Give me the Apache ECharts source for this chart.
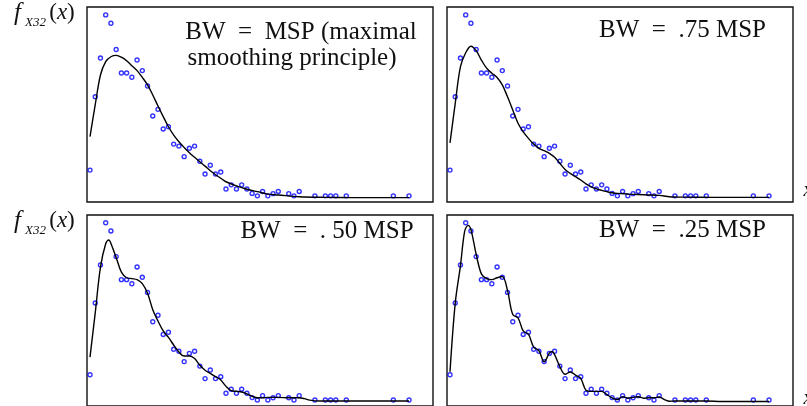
<!DOCTYPE html>
<html>
<head>
<meta charset="utf-8">
<script src="https://cdn.jsdelivr.net/npm/echarts/dist/echarts.min.js"></script>
<style>
html,body{margin:0;padding:0;background:#fff;}
#chart{width:807px;height:406px;}
</style>
</head>
<body>
<div id="chart"></div>
<script>
// Observed data points (same in all four panels)
const pointX = [0,1,2,3,4,5,6,7,8,9,10,11,12,13,14,15,16,17,18,19,20,21,22,23,24,25,26,27,28,29,30,31,32,33,34,35,36,38,39,40,43,45,46,47,49,58,61];
const pointY = [12.7,46,63.6,83.2,79.4,67.5,56.8,56.8,54.9,62.7,57.9,50.9,37.3,40.3,31.4,32.4,24.5,23.6,18.8,22.6,23.6,16.7,10.9,14.9,10.9,11.8,4.1,6,4.1,6,4.1,2.1,1,3,1,2,3,2,1,3,1,1,1,1,1,1,1];

// Density curves
const curveX_MSP = [0,1,2,3,4,5,6,7,8,9,10,11,12,13,14,15,16,17,18,19,20,21,22,23,24,25,26,28,30,32,34,36,40,45,50,55,61];
const curveY_MSP = [27.9,42.4,55.9,62,64.2,64.8,64,62.4,60.1,57.9,54.8,51.4,46.8,41.8,37,32.4,28.6,25.6,23,20.6,18.5,16.5,14.5,12.4,10.6,9,7.4,5.5,4,2.9,1.8,1.4,0.6,0.3,0.2,0.2,0.2];

const curveX_75 = [0,1,2,3,4,5,6,7,8,9,10,11,12,13,14,15,16,17,18,19,20,21,22,23,24,25,26,27,28,29,30,31,32,34,36,38,40,42,45,50,61];
const curveY_75 = [25.1,43,59.7,66,69,67,62.7,59,56.7,54.8,51.4,46,40,34,30.1,27.1,24.5,22.6,21.5,20.3,18.5,15.8,13,11.2,9.7,8.2,6.4,5.1,4.2,3.5,2.9,2.4,2.1,1.8,1.6,1.4,1.2,0.6,0.4,0.3,0.3];

const curveX_50 = [0,1,2,3,3.6,4,5,6,7,8,9,10,11,12,13,14,15,16,17,18,19,20,21,22,23,24,25,26,27,28,29,30,31,32,33,34,36,38,40,41,42,44,50,61];
const curveY_50 = [20.9,41.4,62.6,73.5,75.2,73.6,67.1,60.3,57.7,57.3,56.8,55,50.5,42.9,37.6,33,30,26.5,23.2,21.4,21.4,20.2,17.1,14.8,13.3,11.8,10.3,7.3,5.3,5,4.7,3.8,2.7,2,2,2.2,2.2,2,2,1.6,0.9,0.5,0.5,0.5];

const curveX_25 = [0,1,2,2.8,3.45,4,5,6,7,8,9,10,11,12,13,14,15,16,17,18,19,19.5,20,21,22,23,24,25,26,27,28,29,30,31,32,33,34,35,36,37,38,39,40,41,42,43,45,47,49,52,58,61];
const curveY_25 = [14.1,45.9,63.3,79.2,82,80,68.6,59.5,57.3,56.8,57.7,58.3,51.7,40.6,39.1,33,31.5,25.5,23.9,18.7,22.7,23.5,22,16.5,12.9,14,12.5,11,5.5,5,5,5,3.5,2,1.2,2.5,1.8,2.2,2.5,1.8,2,2,2.4,1.2,0.4,0.5,0.5,0.5,0.5,0.3,0.3,0.3];

const panelTitles = [['BW\u2002=\u2002MSP (maximal', 'smoothing principle)'], ['BW\u2002=\u2002.75 MSP'], ['BW\u2002=\u2002. 50 MSP'], ['BW\u2002=\u2002.25 MSP']];
const yLabel = 'f';
const yLabelSub = 'X32';

const curvesX = [curveX_MSP, curveX_75, curveX_50, curveX_25];
const curvesY = [curveY_MSP, curveY_75, curveY_50, curveY_25];

const grids = [
  {left: 87, top: 7, width: 346, height: 195},
  {left: 447, top: 7, width: 346, height: 195},
  {left: 87, top: 215, width: 346, height: 195},
  {left: 447, top: 215, width: 346, height: 195}
];

const pts = pointX.map((x, i) => [x, pointY[i]]);
const series = [];
const xAxes = [], yAxes = [];
grids.forEach((g, i) => {
  g.show = true; g.borderColor = '#111'; g.borderWidth = 1.4; g.backgroundColor = 'transparent';
  g.containLabel = false;
  xAxes.push({type: 'value', gridIndex: i, min: -0.574, max: 65.58, show: false});
  yAxes.push({type: 'value', gridIndex: i, min: -1.8, max: 86.8, show: false});
  series.push({
    type: 'line', xAxisIndex: i, yAxisIndex: i,
    data: curvesX[i].map((x, k) => [x, curvesY[i][k]]),
    showSymbol: false, smooth: 0.35, silent: true,
    lineStyle: {color: '#000', width: 1.4}
  });
  series.push({
    type: 'scatter', xAxisIndex: i, yAxisIndex: i, data: pts,
    symbol: 'circle', symbolSize: 4, silent: true,
    itemStyle: {color: 'rgba(0,0,0,0)', borderColor: '#0000ff', borderWidth: 1.4}
  });
});

const serif = 'Liberation Serif';
const titleFs = 25;
function T(text, x, yBase, align, fs, style) {
  return {
    type: 'text', x: x, y: yBase - 0.3375 * fs, silent: true,
    style: {text: text, fill: '#111', font: (style || '') + ' ' + fs + 'px "' + serif + '"',
      textAlign: align, textVerticalAlign: 'middle', align: align, verticalAlign: 'middle'}
  };
}
const graphics = [
  T(panelTitles[0][0], 301, 40.7, 'center', titleFs),
  T(panelTitles[0][1], 292, 66.7, 'center', titleFs),
  T(panelTitles[1][0], 682.5, 39.3, 'center', titleFs),
  T(panelTitles[2][0], 327, 240, 'center', titleFs),
  T(panelTitles[3][0], 682.5, 239.3, 'center', titleFs)
];
[0, 208].forEach(dy => {
  graphics.push(T(yLabel, 14, 21.5 + dy, 'left', 25, 'italic'));
  graphics.push(T(yLabelSub, 25, 27 + dy, 'left', 13, 'italic'));
  graphics.push({
    type: 'text', x: 62, y: 20.7 + dy - 0.3375 * 23, silent: true,
    style: {text: '{a|(}{i|x}{a|)}', align: 'center', verticalAlign: 'middle',
      rich: {a: {fontFamily: serif, fontSize: 23, fill: '#111'}, i: {fontFamily: serif, fontSize: 23, fontStyle: 'italic', fill: '#111'}}}
  });
  graphics.push(T('x', 803.5, 197 + dy, 'left', 20, 'italic'));
});

const chart = echarts.init(document.getElementById('chart'), null, {renderer: 'canvas'});
chart.setOption({
  animation: false,
  backgroundColor: '#fff',
  grid: grids,
  xAxis: xAxes,
  yAxis: yAxes,
  series: series,
  graphic: graphics
});
</script>
</body>
</html>
